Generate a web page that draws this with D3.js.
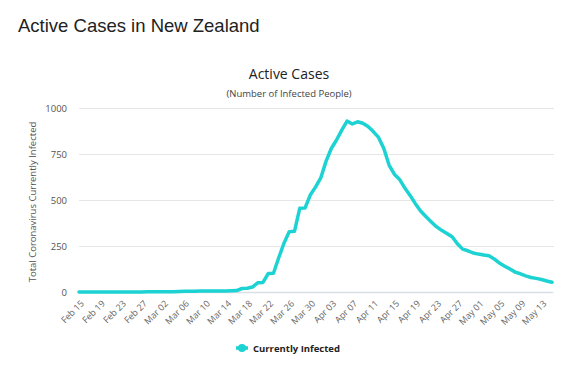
<!DOCTYPE html>
<html>
<head>
<meta charset="utf-8">
<script src="https://cdn.jsdelivr.net/npm/d3@7"></script>
<style>
  body { margin: 0; background: #fff; }
  svg { display: block; }
</style>
</head>
<body>
<div id="chart"></div>
<script>
// active cases, one value per day from Feb 15 to May 15 (2020)
const startDate = "2020-02-15";
const activeCases = [
  0, 0, 0, 0, 0, 0, 0, 0, 0, 0, 0, 0, 0,
  1, 1, 1, 1, 1,            // Feb 28 - Mar 03
  2, 3, 4, 4, 4, 5, 5, 5, 5, 5, 6, 7, 8, // Mar 04 - Mar 16
  19, 20, 27, 50, 52, 100, 102, 186, 265, 328, 330, // Mar 17 - Mar 27
  455, 456, 527, 570, 620, 710, 780, 826, 880, 929, // Mar 28 - Apr 06
  913, 925, 917, 900, 872, 840, 780, 690, 640, 612, // Apr 07 - Apr 16
  565, 525, 480, 440, 410, 382, 355, 335, 318, 300, // Apr 17 - Apr 26
  262, 233, 224, 212, 206, 201, 197, 180, 157, 140, // Apr 27 - May 06
  125, 108, 99, 88, 79, 74, 68, 60, 53              // May 07 - May 15
];
const yTicks = [0, 250, 500, 750, 1000];
const seriesName = "Currently Infected";

const width = 587, height = 370;
const margin = { left: 79, right: 35, top: 108, bottom: 78 };
const lineColor = "#1dd2d2";

const parse = d3.timeParse("%Y-%m-%d");
const fmt = d3.timeFormat("%b %d");
const dates = activeCases.map((v, i) => d3.timeDay.offset(parse(startDate), i));

const svg = d3.select("#chart").append("svg")
  .attr("width", width)
  .attr("height", height);

const x = d3.scalePoint()
  .domain(d3.range(activeCases.length))
  .range([margin.left, width - margin.right]);

const y = d3.scaleLinear()
  .domain([0, 1000])
  .range([height - margin.bottom, margin.top]);

// page title
svg.append("text")
  .attr("x", 18).attr("y", 32)
  .attr("font-family", "Liberation Sans, Arial, sans-serif")
  .attr("font-size", 18.5)
  .attr("fill", "#222")
  .text("Active Cases in New Zealand");

// chart title + subtitle
svg.append("text")
  .attr("x", 289).attr("y", 79)
  .attr("text-anchor", "middle")
  .attr("font-family", "Open Sans, sans-serif")
  .attr("font-size", 14)
  .attr("fill", "#222")
  .text("Active Cases");

svg.append("text")
  .attr("x", 289).attr("y", 97)
  .attr("text-anchor", "middle")
  .attr("font-family", "Open Sans, sans-serif")
  .attr("font-size", 9.5)
  .attr("fill", "#444")
  .text("(Number of Infected People)");

// grid + y labels
const yAxis = svg.append("g")
  .attr("transform", `translate(${margin.left},0)`)
  .call(d3.axisLeft(y).tickValues(yTicks).tickFormat(d3.format("d"))
    .tickSize(-(width - margin.left - margin.right + 2)).tickPadding(12));
yAxis.select(".domain").remove();
yAxis.selectAll(".tick line").attr("stroke", "#e6e6e6");
yAxis.selectAll(".tick text")
  .attr("font-family", "Open Sans, sans-serif")
  .attr("font-size", 9.5)
  .attr("fill", "#555");

svg.append("text")
  .attr("transform", `translate(36,${(margin.top + height - margin.bottom) / 2 + 2}) rotate(-90)`)
  .attr("text-anchor", "middle")
  .attr("font-family", "Open Sans, sans-serif")
  .attr("font-size", 9.5)
  .attr("fill", "#555")
  .text("Total Coronavirus Currently Infected");

// x axis, label every 4th day
const xAxis = svg.append("g")
  .attr("transform", `translate(0,${height - margin.bottom})`)
  .call(d3.axisBottom(x)
    .tickValues(d3.range(0, activeCases.length, 4))
    .tickFormat(i => fmt(dates[i]))
    .tickSize(0));
xAxis.select(".domain").attr("stroke", "#d8dde8").attr("stroke-width", 1.5);
xAxis.selectAll(".tick text")
  .attr("font-family", "Open Sans, sans-serif")
  .attr("font-size", 9)
  .attr("fill", "#666")
  .attr("text-anchor", "end")
  .attr("dy", 0)
  .attr("transform", "translate(3,10) rotate(-45)");

// the series
const line = d3.line()
  .x((d, i) => x(i))
  .y(d => y(d));

svg.append("path")
  .datum(activeCases)
  .attr("fill", "none")
  .attr("stroke", lineColor)
  .attr("stroke-width", 3.5)
  .attr("stroke-linejoin", "round")
  .attr("stroke-linecap", "round")
  .attr("d", line);

// legend
const lg = svg.append("g").attr("transform", "translate(236,348)");
lg.append("line")
  .attr("x1", 0).attr("x2", 12)
  .attr("stroke", lineColor).attr("stroke-width", 3.5);
lg.append("circle")
  .attr("cx", 6).attr("r", 4)
  .attr("fill", lineColor);
lg.append("text")
  .attr("x", 17).attr("y", 3.5)
  .attr("font-family", "Open Sans, sans-serif")
  .attr("font-size", 9.5)
  .attr("font-weight", "bold")
  .attr("fill", "#222")
  .text(seriesName);
</script>
</body>
</html>
